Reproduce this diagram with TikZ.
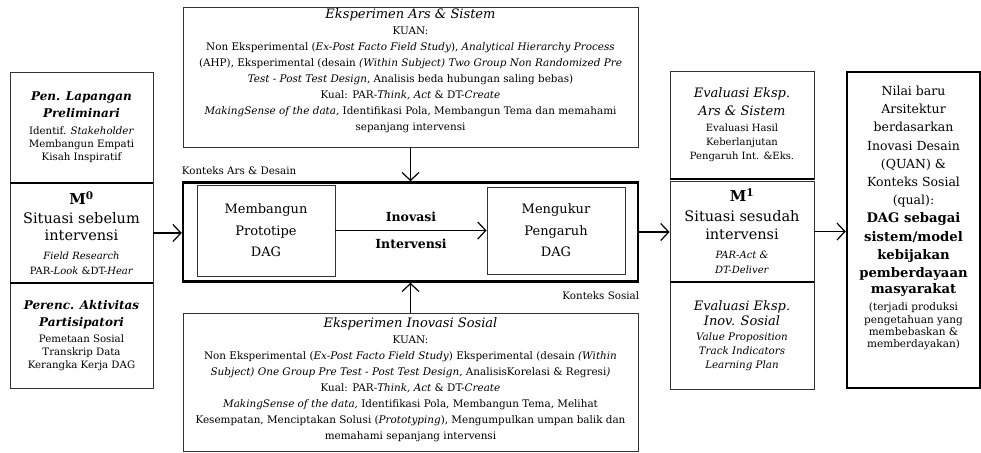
\documentclass[tikz,border=0pt]{standalone}
\usepackage{fontspec}
\setmainfont{DejaVu Serif}
\usepackage{tikz}
\usetikzlibrary{positioning}
\usetikzlibrary{arrows,arrows.meta}

\newcommand{\judul}[1]{{\fontsize{13}{15}\selectfont\itshape #1}}
\newcommand{\judulbi}[1]{{\fontsize{12}{15}\selectfont\bfseries\itshape #1}}
\newcommand{\besarM}[1]{{\fontsize{15}{17}\selectfont\bfseries M\textsuperscript{#1}}}
\newcommand{\kecil}[1]{{\fontsize{10}{11}\selectfont #1}}
\newcommand{\catatan}[1]{{\fontsize{10.5}{12}\selectfont #1}}
\newcommand{\tebalf}[1]{{\fontsize{13.2}{17}\selectfont\bfseries #1}}

\begin{document}
\begin{tikzpicture}[x=1pt,y=-1pt,
	box/.style={draw=black!80,line width=0.9pt,inner sep=0pt,align=center},
	tebal/.style={draw=black,line width=2.5pt,inner sep=0pt,align=center},
	sekat/.style={line width=2pt},
	arr/.style={-{Straight Barb[length=8pt,width=17pt]},line width=1.2pt},
	isi/.style={font=\fontsize{10.4}{16}\selectfont,align=center,inner sep=0pt},
	kolom/.style={box,minimum width=143pt,font=\fontsize{10.2}{13}\selectfont},
	ctx/.style={font=\fontsize{10.3}{12}\selectfont,inner sep=0pt}]
	\useasboundingbox (0,0) rectangle (981,452);
	% kolom kiri
	\node[kolom,minimum height=110pt] (pen) at (81.5,127.5) {\judulbi{Pen. Lapangan}\\[4pt]
		\judulbi{Preliminari}\\[4pt]
		Identif. \textit{Stakeholder}\\
		Membangun Empati\\
		Kisah Inspiratif};
	\node[kolom,minimum height=100pt,font=\fontsize{14.5}{17}\selectfont] (m0) at (81.5,233) {\besarM{0}\\[2pt]
		Situasi sebelum\\
		intervensi\\[2pt]
		\kecil{\textit{Field Research}}\\[-2pt]
		\kecil{PAR-\textit{Look} \&DT-\textit{Hear}}};
	\node[kolom,minimum height=105pt] (perenc) at (81.5,335.5) {\judulbi{Perenc. Aktivitas}\\[4pt]
		\judulbi{Partisipatori}\\[3pt]
		Pemetaan Sosial\\
		Transkrip Data\\
		Kerangka Kerja DAG};
	\draw[sekat] (pen.south west) -- (pen.south east);
	\draw[sekat] (perenc.north west) -- (perenc.north east);

	% eksperimen atas dan bawah
	\node[box,minimum width=455pt,minimum height=140pt] (ars) at (410.5,77) {};
	\node[isi,below=2pt of ars.north] (arstxt) {\judul{Eksperimen Ars \& Sistem}\\
		KUAN:\\
		Non Eksperimental (\textit{Ex-Post Facto Field Study}), \textit{Analytical Hierarchy Process}\\
		(AHP), Eksperimental (desain \textit{(Within Subject) Two Group Non Randomized Pre}\\
		\textit{Test - Post Test Design}, Analisis beda hubungan saling bebas)\\
		Kual: PAR-\textit{Think, Act} \& DT-\textit{Create}\\
		\textit{MakingSense of the data,} Identifikasi Pola, Membangun Tema dan memahami\\
		sepanjang intervensi};
	\node[box,minimum width=455pt,minimum height=138pt] (sos) at (410.5,382) {};
	\node[isi,below=5pt of sos.north] (sostxt) {\judul{Eksperimen Inovasi Sosial}\\
		KUAN:\\
		Non Eksperimental (\textit{Ex-Post Facto Field Study}) Eksperimental (desain \textit{(Within}\\
		\textit{Subject) One Group Pre Test - Post Test Design,} AnalisisKorelasi \& Regresi\textit{)}\\
		Kual: PAR-\textit{Think, Act} \& DT-\textit{Create}\\
		\textit{MakingSense of the data,} Identifikasi Pola, Membangun Tema, Melihat\\
		Kesempatan, Menciptakan Solusi (\textit{Prototyping}), Mengumpulkan umpan balik dan\\
		memahami sepanjang intervensi};

	% inovasi intervensi
	\node[tebal,minimum width=455pt,minimum height=99pt] (inov) at (410.5,232) {};
	\node[box,minimum width=138pt,minimum height=91pt,font=\fontsize{13}{21.5}\selectfont] (proto) at (266,230.5) {Membangun\\ Prototipe\\ DAG};
	\node[box,minimum width=138pt,minimum height=87pt,font=\fontsize{13}{21.5}\selectfont] (ukur) at (556,230.5) {Mengukur\\ Pengaruh\\ DAG};
	\node[ctx,above=6pt of inov.north west,anchor=south west] (kad) {Konteks Ars \& Desain};
	\node[ctx,below=9pt of inov.south east,anchor=north east] (ks) {Konteks Sosial};

	% kolom kanan
	\node[kolom,minimum width=144pt,minimum height=108pt,font=\fontsize{10}{14}\selectfont] (evars) at (742,125) {\judul{Evaluasi Eksp.}\\[4pt]
		\judul{Ars \& Sistem}\\[2pt]
		Evaluasi Hasil\\
		Keberlanjutan\\
		Pengaruh Int. \&Eks.};
	\node[kolom,minimum width=144pt,minimum height=101pt,font=\fontsize{14.5}{17}\selectfont] (m1) at (742,231.5) {\besarM{1}\\[3pt]
		Situasi sesudah\\[1pt]
		intervensi\\[2pt]
		\kecil{\textit{PAR-Act \&}}\\[-2pt]
		\kecil{\textit{DT-Deliver}}};
	\node[kolom,minimum width=144pt,minimum height=107pt,font=\fontsize{10.3}{13.8}\selectfont] (evsos) at (742,335.5) {\judul{Evaluasi Eksp.}\\[2pt]
		\judul{Inov. Sosial}\\[1pt]
		\textit{Value Proposition}\\
		\textit{Track Indicators}\\
		\textit{Learning Plan}};
	\draw[sekat] (evars.south west) -- (evars.south east);
	\draw[sekat] (evsos.north west) -- (evsos.north east);

	% hasil akhir
	\node[tebal,minimum width=133pt,minimum height=316pt] (nilai) at (913.5,230) {};
	\node[isi,font=\fontsize{12.5}{18.2}\selectfont,below=15pt of nilai.north] (nilaitxt) {Nilai baru\\ Arsitektur\\ berdasarkan\\ Inovasi Desain\\ (QUAN) \&\\ Konteks Sosial\\ (qual):\\
		\tebalf{DAG sebagai}\\ \tebalf{sistem/model}\\ \tebalf{kebijakan}\\ \tebalf{pemberdayaan}\\[-2pt] \tebalf{masyarakat}\\[-1pt]
		\catatan{(terjadi produksi}\\[-6pt] \catatan{pengetahuan yang}\\[-6pt] \catatan{membebaskan \&}\\[-6pt] \catatan{memberdayakan)}};

	% panah
	\draw[arr] (m0.east) -- (m0.east -| inov.west);
	\draw[arr] (ars) -- (inov);
	\draw[arr] (sos) -- (inov);
	\draw[arr] (proto) -- node[above=5pt,font=\fontsize{12.5}{14}\selectfont\bfseries] (ino) {Inovasi}
		node[below=5pt,font=\fontsize{12.5}{14}\selectfont\bfseries] (int) {Intervensi} (ukur);
	\draw[arr] (inov.east) -- (inov.east -| m1.west);
	\draw[arr] (m1.east) -- (m1.east -| nilai.west);
\end{tikzpicture}
\end{document}
